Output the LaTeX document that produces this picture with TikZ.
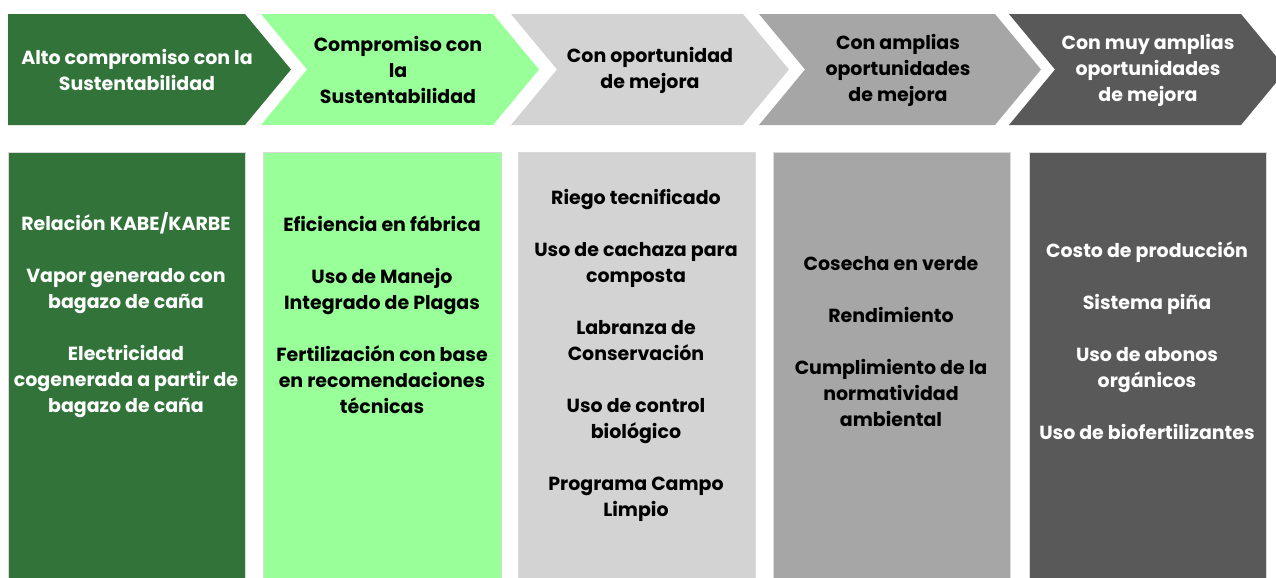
\documentclass[tikz,border=0pt]{standalone}
\usepackage{fontspec}
\setmainfont{Poppins}
\usepackage{xcolor}
\usetikzlibrary{positioning}

\definecolor{verdeosc}{HTML}{317339}
\definecolor{verdecla}{HTML}{99FF99}
\definecolor{grisclaro}{HTML}{D3D3D3}
\definecolor{grismedio}{HTML}{A6A6A6}
\definecolor{grisosc}{HTML}{595959}

\newcommand{\txtsize}{\fontsize{10.8}{14.8}\selectfont\bfseries}

\begin{document}
\begin{tikzpicture}[
    x=0.02cm,
    y=-0.02cm,
    every node/.style={font=\txtsize, align=center, inner sep=0pt},
    caja/.style={draw=white!85!black, line width=0.4pt}
]

\useasboundingbox (0,0) rectangle (1276,578);

% Chevrons (header row)
\fill[verdeosc]  (8,14) -- (245,14) -- (291,69.5) -- (245,125) -- (8,125) -- cycle;
\fill[verdecla]  (261,14) -- (493,14) -- (539,69.5) -- (493,125) -- (261,125) -- (307,69.5) -- cycle;
\fill[grisclaro] (511,14) -- (743,14) -- (789,69.5) -- (743,125) -- (511,125) -- (557,69.5) -- cycle;
\fill[grismedio] (759,14) -- (995,14) -- (1041,69.5) -- (995,125) -- (759,125) -- (805,69.5) -- cycle;
\fill[grisosc]   (1009,14) -- (1241,14) -- (1287,69.5) -- (1241,125) -- (1009,125) -- (1055,69.5) -- cycle;

\node[white] (h1) at (137,70) {Alto compromiso con la\\Sustentabilidad};
\node (h2) at (398,70) {Compromiso con\\la\\Sustentabilidad};
\node (h3) at (650,70) {Con oportunidad\\de mejora};
\node (h4) at (898,70) {Con amplias\\oportunidades\\de mejora};
\node[white] (h5) at (1148,70) {Con muy amplias\\oportunidades\\de mejora};

% Columns
\fill[verdeosc,caja]  (8,152) rectangle (245,580);
\fill[verdecla,caja]  (263,152) rectangle (501,580);
\fill[grisclaro,caja] (518,152) rectangle (755,580);
\fill[grismedio,caja] (773,152) rectangle (1010,580);
\fill[grisosc,caja]   (1029,152) rectangle (1266,580);

\node[white] (c1) at (126,315)
    {Relación KABE/KARBE\\[14.8pt]
     Vapor generado con\\bagazo de caña\\[14.8pt]
     Electricidad\\cogenerada a partir de\\bagazo de caña};

\node (c2) at (382,315)
    {Eficiencia en fábrica\\[14.8pt]
     Uso de Manejo\\Integrado de Plagas\\[14.8pt]
     Fertilización con base\\en recomendaciones\\técnicas};

\node (c3) at (636,355)
    {Riego tecnificado\\[14.8pt]
     Uso de cachaza para\\composta\\[14.8pt]
     Labranza de\\Conservación\\[14.8pt]
     Uso de control\\biológico\\[14.8pt]
     Programa Campo\\Limpio};

\node (c4) at (891,342)
    {Cosecha en verde\\[14.8pt]
     Rendimiento\\[14.8pt]
     Cumplimiento de la\\normatividad\\ambiental};

\node[white] (c5) at (1147,341)
    {Costo de producción\\[14.8pt]
     Sistema piña\\[14.8pt]
     Uso de abonos\\orgánicos\\[14.8pt]
     Uso de biofertilizantes};

\end{tikzpicture}
\end{document}
